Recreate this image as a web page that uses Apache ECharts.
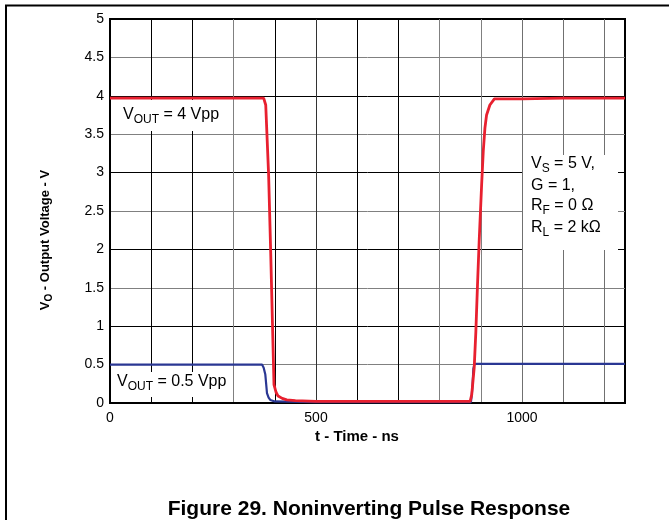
<!DOCTYPE html>
<html>
<head>
<meta charset="utf-8">
<script src="https://cdn.jsdelivr.net/npm/echarts@6/dist/echarts.min.js"></script>
<style>
html,body{margin:0;padding:0;background:#fff;}
#c{width:669px;height:520px;}
</style>
</head>
<body>
<div id="c"></div>
<script>
// ---- data ----
const redTime = [0, 100, 200, 300, 373, 378, 385, 390, 395, 398, 403, 408, 418, 429, 450, 500, 600, 700, 800, 874, 878, 884, 888, 892, 896, 902, 906, 910, 914, 922, 933, 1000, 1100, 1250];
const redVolt = [3.97, 3.97, 3.97, 3.97, 3.97, 3.88, 2.97, 1.97, 0.89, 0.24, 0.14, 0.09, 0.06, 0.04, 0.03, 0.02, 0.02, 0.02, 0.02, 0.02, 0.11, 0.46, 0.93, 1.54, 2.1, 2.84, 3.28, 3.58, 3.75, 3.88, 3.96, 3.96, 3.97, 3.97];
const blueTime = [0, 200, 369, 373, 377, 381, 385, 389, 400, 500, 700, 876, 878, 880, 882, 885, 1000, 1250];
const blueVolt = [0.5, 0.5, 0.5, 0.46, 0.37, 0.13, 0.07, 0.04, 0.02, 0.01, 0.01, 0.01, 0.1, 0.24, 0.45, 0.51, 0.51, 0.51];
const xTickLabels = [0, 500, 1000];
const yMin = 0, yMax = 5, yStep = 0.5;
const xMin = 0, xMax = 1250, xStep = 100;

const FONT = "'Liberation Sans', Arial, Helvetica, sans-serif";
const chart = echarts.init(document.getElementById('c'), null, {renderer: 'canvas'});

const mctx = document.createElement('canvas').getContext('2d');
function measure(t, size, weight) {
  mctx.font = (weight || 'normal') + ' ' + size + 'px ' + FONT;
  return mctx.measureText(t).width;
}
// build a line of text with subscripts: parts = [[text, isSub], ...]
function subText(parts, size, weight, opts) {
  const subSize = Math.round(size * 0.78);
  let x = 0;
  const children = [];
  parts.forEach(p => {
    const s = p[1] ? subSize : size;
    children.push({
      type: 'text', x: x, y: p[1] ? size * 0.32 : 0, z: 30,
      style: {text: p[0], font: (weight || 'normal') + ' ' + s + 'px ' + FONT, fill: '#000', textVerticalAlign: 'middle', verticalAlign: 'middle', textAlign: 'left', align: 'left'}
    });
    x += measure(p[0], s, weight);
  });
  const g = Object.assign({type: 'group', children: children, z: 30}, opts);
  return {g: g, w: x};
}

const xColors = ['#000', '#000', '#000', '#808080', '#000', '#333', '#000', '#000', '#808080', '#808080', '#707070', '#707070', '#707070', '#000'];

const yT = subText([['V', 0], ['O', 1], [' - Output Voltage - V', 0]], 13, 'bold', {});
const yTitle = yT.g;
yTitle.x = 45; yTitle.y = 240 + yT.w / 2; yTitle.rotation = Math.PI / 2;

function line(parts, x, y) { return subText(parts, 16, 'normal', {x: x, y: y}).g; }

const option = {
  animation: false,
  backgroundColor: '#fff',
  grid: {left: 110, right: 44, top: 19, bottom: 117, show: true, borderColor: '#000', borderWidth: 2, backgroundColor: 'transparent'},
  xAxis: {
    type: 'value', min: xMin, max: xMax, interval: xStep,
    axisLine: {show: true, lineStyle: {color: '#000', width: 2}},
    axisTick: {show: false},
    axisLabel: {color: '#000', fontSize: 14, fontFamily: FONT, margin: 8, showMaxLabel: false,
      formatter: v => xTickLabels.indexOf(v) >= 0 ? String(v) : ''},
    splitLine: {show: true, lineStyle: {color: xColors, width: 1}}
  },
  yAxis: {
    type: 'value', min: yMin, max: yMax, interval: yStep,
    axisLine: {show: true, lineStyle: {color: '#000', width: 2}},
    axisTick: {show: false},
    axisLabel: {color: '#000', fontSize: 14, fontFamily: FONT, margin: 6,
      formatter: v => String(Math.round(v * 10) / 10)},
    splitLine: {show: true, lineStyle: {color: ['#000', '#808080'], width: 1}}
  },
  series: [
    {type: 'line', data: blueTime.map((t, i) => [t, blueVolt[i]]), showSymbol: false, symbol: 'none',
      lineStyle: {color: '#2a3793', width: 2.2}, z: 3},
    {type: 'line', data: redTime.map((t, i) => [t, redVolt[i]]), showSymbol: false, symbol: 'none',
      lineStyle: {color: '#e8202f', width: 2.8}, z: 4}
  ],
  graphic: [
    {type: 'line', shape: {x1: 5, y1: 5.5, x2: 669, y2: 5.5}, style: {stroke: '#000', lineWidth: 2}, z: 20},
    {type: 'line', shape: {x1: 6, y1: 5, x2: 6, y2: 520}, style: {stroke: '#000', lineWidth: 2}, z: 20},
    // annotation boxes
    {type: 'rect', shape: {x: 112, y: 100, width: 113, height: 31}, style: {fill: '#fff'}, z: 10},
    {type: 'rect', shape: {x: 112, y: 372, width: 118, height: 25}, style: {fill: '#fff'}, z: 10},
    {type: 'rect', shape: {x: 523, y: 155, width: 95, height: 95}, style: {fill: '#fff'}, z: 10},
    line([['V', 0], ['OUT', 1], [' = 4 Vpp', 0]], 123, 115),
    line([['V', 0], ['OUT', 1], [' = 0.5 Vpp', 0]], 117, 382),
    line([['V', 0], ['S', 1], [' = 5 V,', 0]], 531, 164),
    line([['G = 1,', 0]], 531, 186),
    line([['R', 0], ['F', 1], [' = 0 \u03A9', 0]], 531, 206),
    line([['R', 0], ['L', 1], [' = 2 k\u03A9', 0]], 531, 228),
    yTitle,
    {type: 'text', x: 357, y: 437, z: 20, style: {text: 't - Time - ns', font: 'bold 15px ' + FONT, fill: '#000', textAlign: 'center', align: 'center', textVerticalAlign: 'middle', verticalAlign: 'middle'}},
    {type: 'text', x: 369, y: 509, z: 20, style: {text: 'Figure 29. Noninverting Pulse Response', font: 'bold 21px ' + FONT, fill: '#000', textAlign: 'center', align: 'center', textVerticalAlign: 'middle', verticalAlign: 'middle'}}
  ]
};
chart.setOption(option);
</script>
</body>
</html>
